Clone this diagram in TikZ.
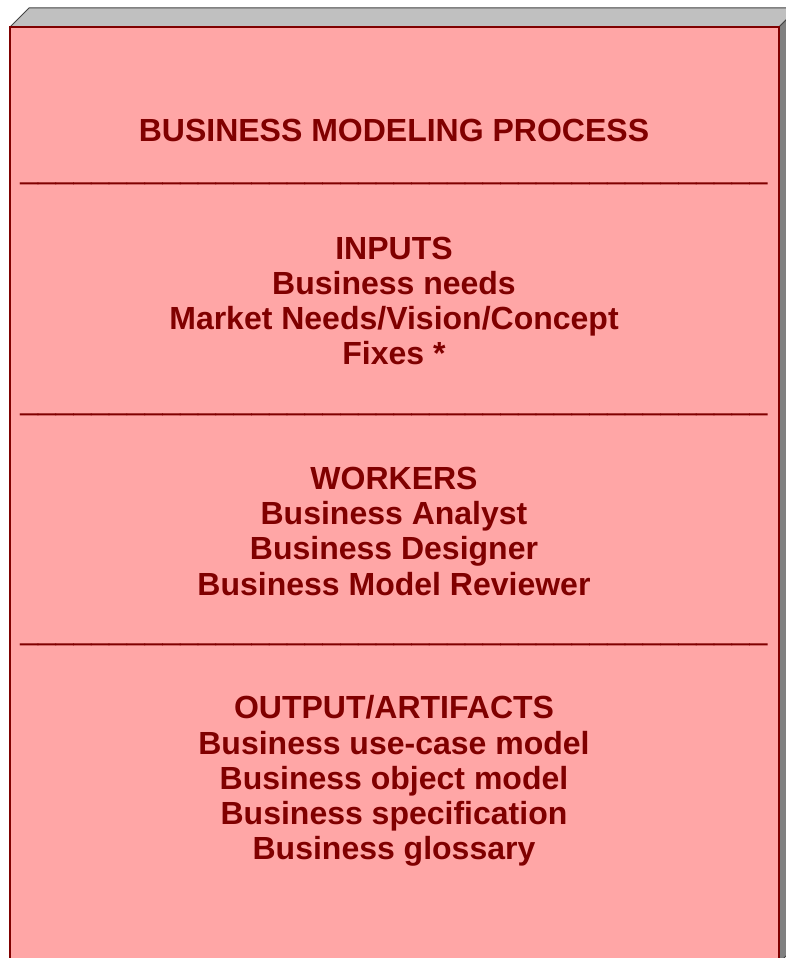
\documentclass[tikz,border=0pt]{standalone}
\usepackage{fontspec}
\setmainfont{Liberation Sans}
\definecolor{txt}{HTML}{800000}
\definecolor{face}{HTML}{FFA6A6}
\definecolor{topf}{HTML}{C0C0C0}
\definecolor{sidef}{HTML}{808080}
\definecolor{edge}{HTML}{444444}
\newcommand\seprow{\_\_\_\_\_\_\_\_\_\_\_\_\_\_\_\_\_\_\_\_\_\_\_\_\_\_\_\_\_\_\_\_\_\_\_\_\_\_\_\_\_\_}
\begin{document}
\begin{tikzpicture}[x=1pt,y=-1pt,
  lbl/.style={anchor=base, font=\fontsize{32}{35}\selectfont\bfseries, text=txt, inner sep=0pt},
  sepl/.style={anchor=base, font=\fontsize{32}{35}\selectfont, text=txt, inner sep=0pt},
  topface/.style={fill=topf, draw=edge, line width=1pt, line join=miter},
  sideface/.style={fill=sidef, draw=edge, line width=1pt},
  frontface/.style={fill=face, draw=txt, line width=2.2pt}]
\useasboundingbox (0,0) rectangle (786,958);
\begin{scope}
\clip (0,0) rectangle (786,958);
\path[topface] (10,27) -- (29,8) -- (798,8) -- (779,27) -- cycle;
\path[sideface] (779,27) -- (798,8) -- (798,944) -- (779,963) -- cycle;
\path[frontface] (10,27) rectangle (779,963);
\end{scope}
\node[lbl] (title) at (394,141) {BUSINESS MODELING PROCESS};
\node[sepl] (sep1) at (394,178) {\seprow};
\node[lbl] (in0) at (394,259) {INPUTS};
\node[lbl] (in1) at (394,294) {Business needs};
\node[lbl] (in2) at (394,329) {Market Needs/Vision/Concept};
\node[lbl] (in3) at (394,364) {Fixes *};
\node[sepl] (sep2) at (394,409) {\seprow};
\node[lbl] (wk0) at (394,489) {WORKERS};
\node[lbl] (wk1) at (394,524) {Business Analyst};
\node[lbl] (wk2) at (394,559) {Business Designer};
\node[lbl] (wk3) at (394,595) {Business Model Reviewer};
\node[sepl] (sep3) at (394,639) {\seprow};
\node[lbl] (out0) at (394,718) {OUTPUT/ARTIFACTS};
\node[lbl] (out1) at (394,754) {Business use-case model};
\node[lbl] (out2) at (394,789) {Business object model};
\node[lbl] (out3) at (394,824) {Business specification};
\node[lbl] (out4) at (394,859) {Business glossary};
\end{tikzpicture}
\end{document}
